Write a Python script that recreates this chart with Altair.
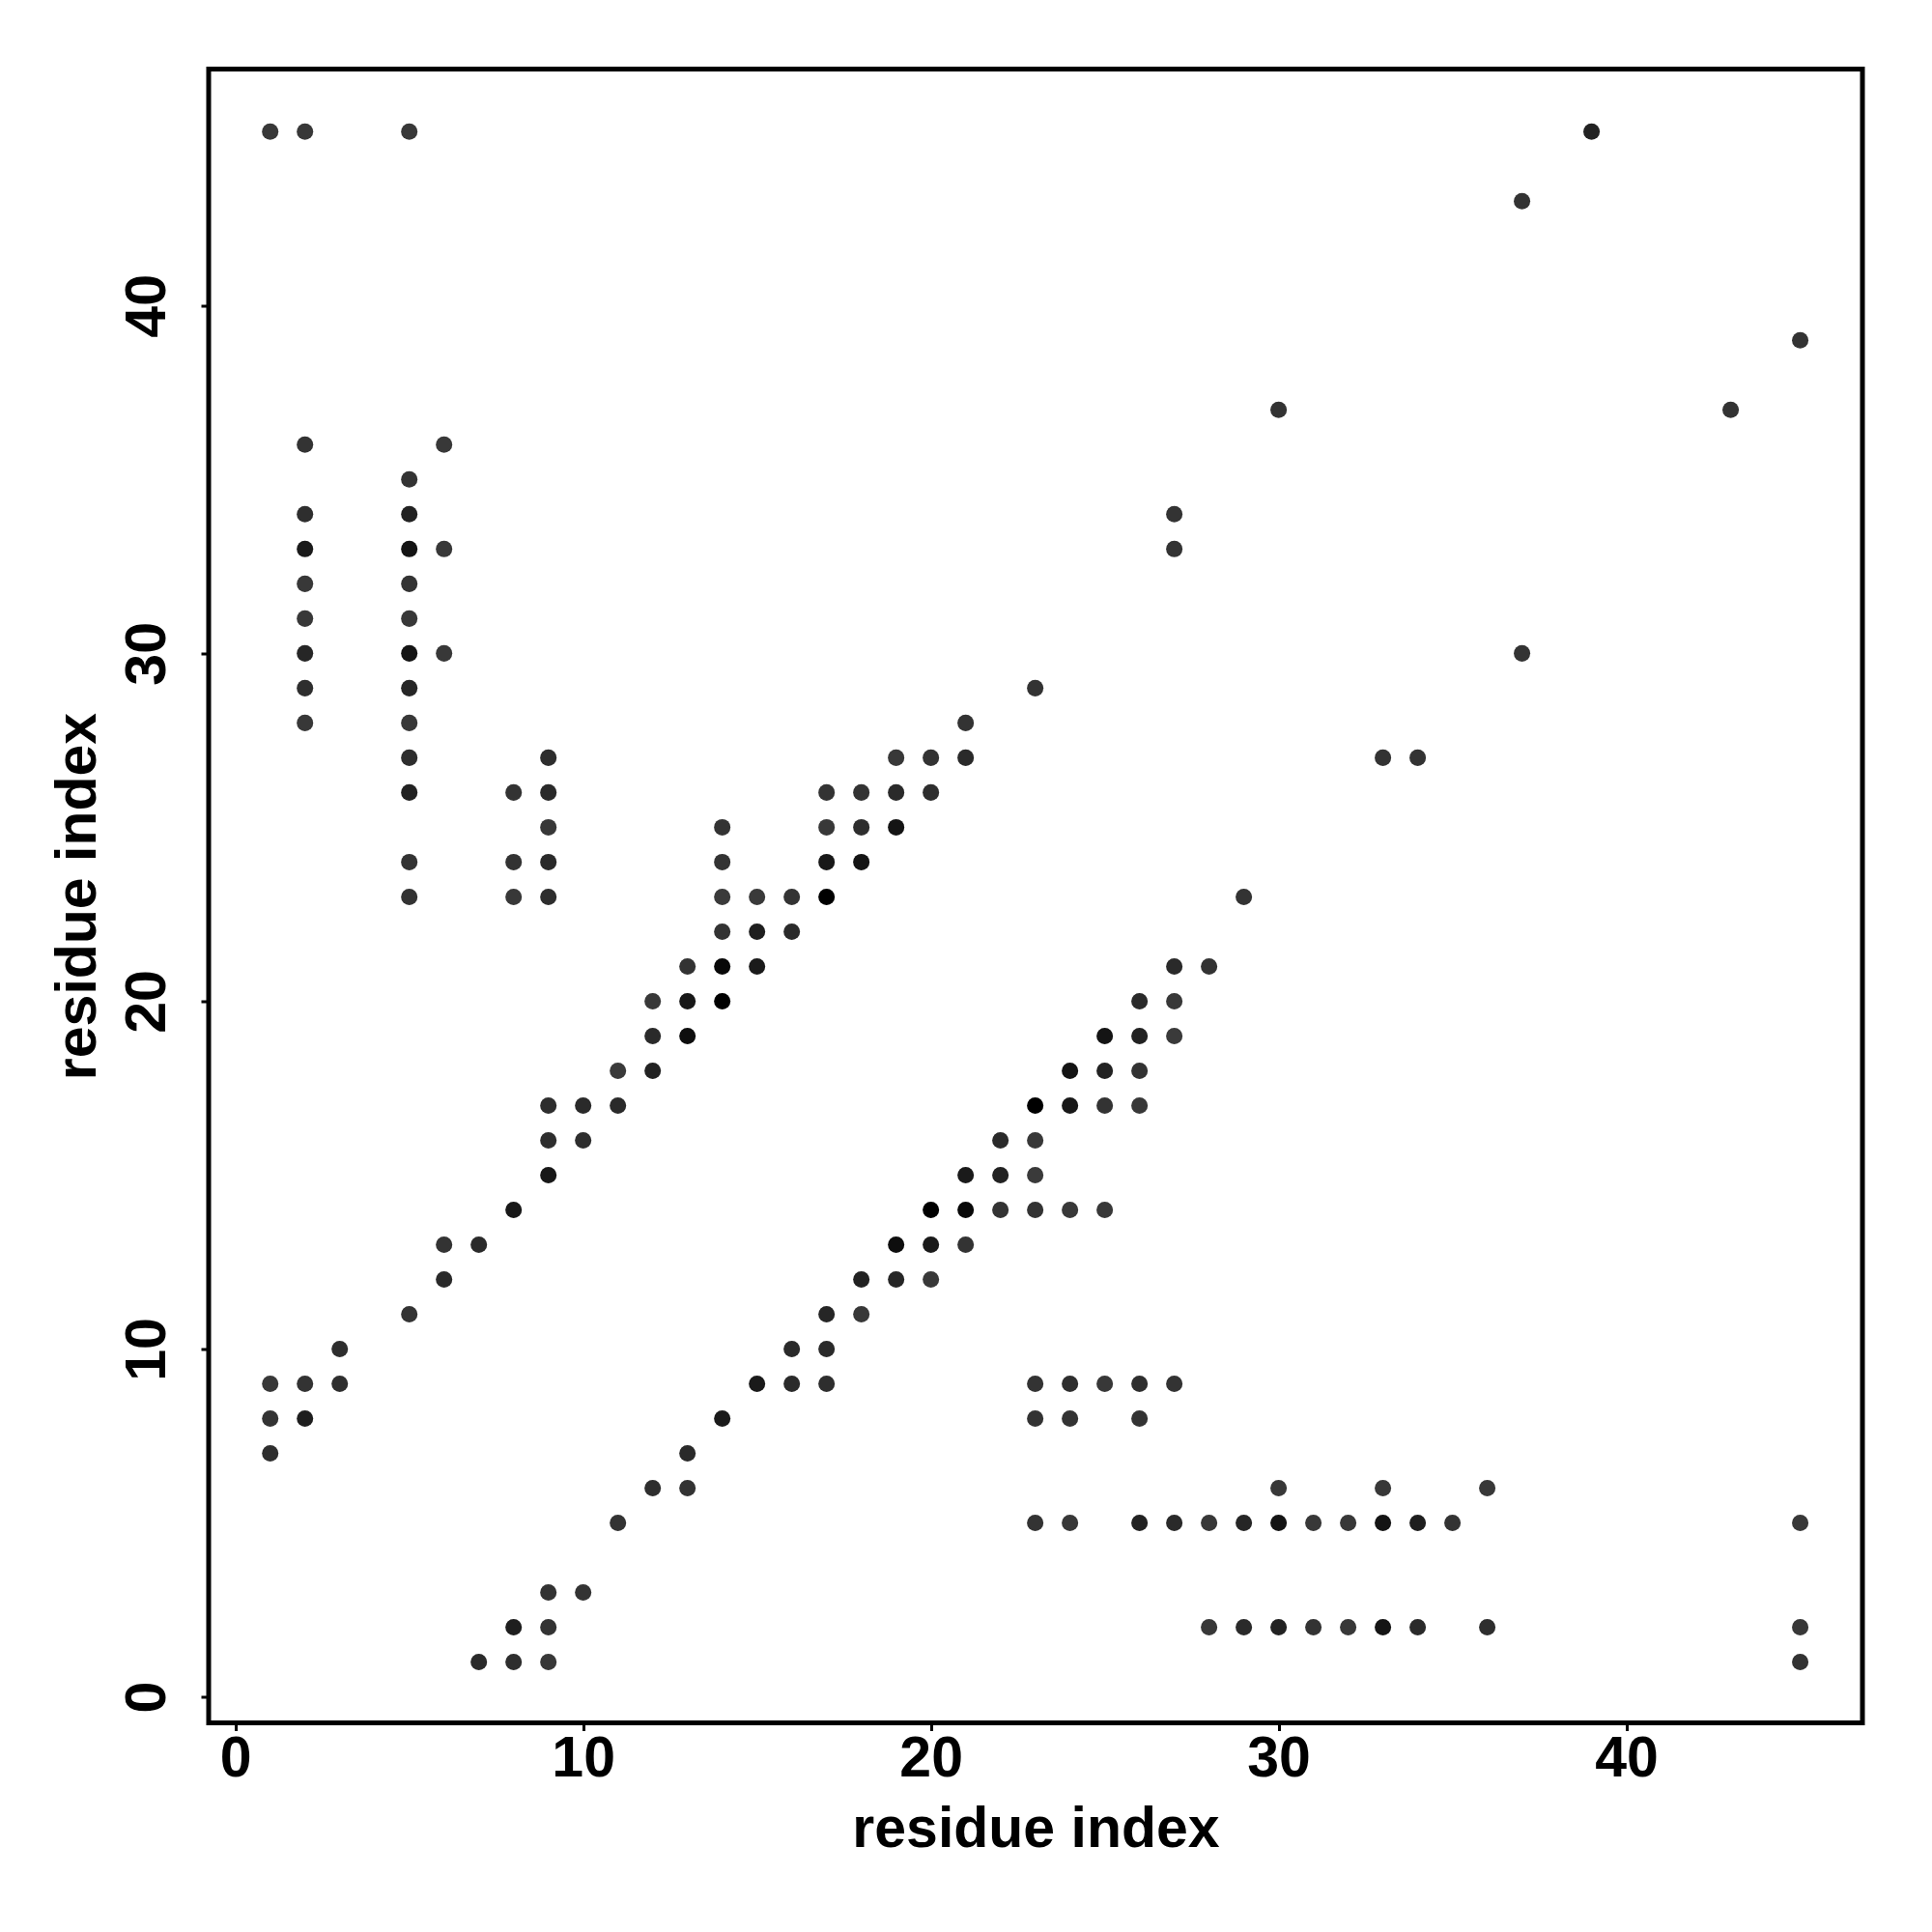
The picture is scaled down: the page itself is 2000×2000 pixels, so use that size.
import altair as alt
import pandas as pd

# residue contact pairs (x residue, y residue) and grey level of each dot (0=black)
res_x = [
    1, 1, 1, 1,
    2, 2, 2, 2, 2, 2, 2, 2, 2, 2, 2,
    3, 3,
    5, 5, 5, 5, 5, 5, 5, 5, 5, 5, 5, 5, 5, 5,
    6, 6, 6, 6, 6,
    7, 7,
    8, 8, 8, 8, 8, 8,
    9, 9, 9, 9, 9, 9, 9, 9, 9, 9, 9,
    10, 10, 10,
    11, 11, 11,
    12, 12, 12, 12,
    13, 13, 13, 13, 13,
    14, 14, 14, 14, 14, 14, 14,
    15, 15, 15, 15,
    16, 16, 16, 16,
    17, 17, 17, 17, 17, 17, 17,
    18, 18, 18, 18, 18,
    19, 19, 19, 19, 19,
    20, 20, 20, 20, 20,
    21, 21, 21, 21, 21,
    22, 22, 22,
    23, 23, 23, 23, 23, 23, 23, 23,
    24, 24, 24, 24, 24, 24,
    25, 25, 25, 25, 25,
    26, 26, 26, 26, 26, 26, 26,
    27, 27, 27, 27, 27, 27, 27,
    28, 28, 28,
    29, 29, 29,
    30, 30, 30, 30,
    31, 31,
    32, 32,
    33, 33, 33, 33,
    34, 34, 34,
    35,
    36, 36,
    37, 37,
    39,
    43,
    45, 45, 45, 45,
]
res_y = [
    45, 9, 8, 7,
    45, 36, 34, 33, 32, 31, 30, 29, 28, 9, 8,
    10, 9,
    45, 35, 34, 33, 32, 31, 30, 29, 28, 27, 26, 24, 23, 11,
    36, 33, 30, 13, 12,
    13, 1,
    26, 24, 23, 14, 2, 1,
    27, 26, 25, 24, 23, 17, 16, 15, 3, 2, 1,
    17, 16, 3,
    18, 17, 5,
    20, 19, 18, 6,
    21, 20, 19, 7, 6,
    25, 24, 23, 22, 21, 20, 8,
    23, 22, 21, 9,
    23, 22, 10, 9,
    26, 25, 24, 23, 11, 10, 9,
    26, 25, 24, 12, 11,
    27, 26, 25, 13, 12,
    27, 26, 14, 13, 12,
    28, 27, 15, 14, 13,
    16, 15, 14,
    29, 17, 16, 15, 14, 9, 8, 5,
    18, 17, 14, 9, 8, 5,
    19, 18, 17, 14, 9,
    20, 19, 18, 17, 9, 8, 5,
    34, 33, 21, 20, 19, 9, 5,
    21, 5, 2,
    23, 5, 2,
    37, 6, 5, 2,
    5, 2,
    5, 2,
    27, 6, 5, 2,
    27, 5, 2,
    5,
    6, 2,
    43, 30,
    45,
    37,
    39, 5, 2, 1,
]
grey = [
    56, 56, 51, 46,
    56, 51, 46, 26, 56, 56, 38, 46, 56, 51, 30,
    46, 46,
    56, 51, 34, 20, 51, 56, 20, 38, 56, 46, 34, 51, 51, 51,
    56, 56, 56, 51, 42,
    42, 42,
    51, 51, 56, 24, 30, 46,
    46, 42, 56, 42, 46, 46, 46, 24, 51, 51, 56,
    42, 46, 51,
    58, 42, 51,
    56, 42, 34, 46,
    51, 24, 14, 42, 51,
    51, 51, 58, 51, 8, 0, 26,
    58, 30, 26, 26,
    51, 42, 42, 42,
    51, 56, 24, 0, 38, 42, 46,
    51, 46, 20, 34, 56,
    56, 42, 20, 14, 38,
    51, 46, 0, 26, 56,
    51, 42, 26, 8, 51,
    42, 34, 51,
    51, 0, 56, 58, 51, 51, 51, 51,
    20, 24, 56, 46, 51, 56,
    20, 34, 51, 56, 56,
    42, 34, 51, 56, 46, 51, 34,
    51, 51, 42, 56, 58, 51, 42,
    51, 56, 56,
    51, 38, 42,
    51, 56, 20, 34,
    56, 51,
    56, 56,
    51, 56, 20, 20,
    51, 30, 42,
    51,
    56, 46,
    51, 51,
    34,
    51,
    51, 56, 56, 51,
]

tick_values = [0, 10, 20, 30, 40]

df = pd.DataFrame({"x": res_x, "y": res_y, "g": grey})
df["col"] = ["#%02x%02x%02x" % (v, v, v) for v in df["g"]]

FONT = "Liberation Sans"
FS = 59

chart = (
    alt.Chart(df)
    .mark_circle(size=290, opacity=1)
    .encode(
        x=alt.X(
            "x:Q",
            scale=alt.Scale(domain=[-0.77, 46.79], nice=False, zero=False),
            axis=alt.Axis(
                title="residue index",
                values=tick_values,
                grid=False,
                domain=False,
                tickSize=8,
                tickWidth=3,
                tickColor="black",
                labelFont=FONT,
                labelFontSize=FS,
                labelFontWeight="bold",
                labelColor="black",
                labelBaseline="alphabetic",
                labelPadding=47,
                labelFlush=False,
                labelOverlap=False,
                titleFont=FONT,
                titleFontSize=FS,
                titleFontWeight="bold",
                titleColor="black",
                titleBaseline="alphabetic",
                titleY=128,
            ),
        ),
        y=alt.Y(
            "y:Q",
            scale=alt.Scale(domain=[-0.75, 46.8], nice=False, zero=False),
            axis=alt.Axis(
                title="residue index",
                values=tick_values,
                grid=False,
                domain=False,
                tickSize=8,
                tickWidth=3,
                tickColor="black",
                labelFont=FONT,
                labelFontSize=FS,
                labelFontWeight="bold",
                labelColor="black",
                labelAngle=270,
                labelAlign="center",
                labelBaseline="alphabetic",
                labelPadding=38,
                labelFlush=False,
                labelOverlap=False,
                titleFont=FONT,
                titleFontSize=FS,
                titleFontWeight="bold",
                titleColor="black",
                titleAngle=270,
                titleAlign="center",
                titleBaseline="alphabetic",
                titleX=-118,
                titleY=856,
            ),
        ),
        color=alt.Color("col:N", scale=None, legend=None),
    )
    .properties(
        width=1712,
        height=1712,
        padding={"left": 208, "top": 63.5, "right": 40, "bottom": 180},
        autosize=alt.AutoSizeParams(type="none"),
        background="white",
    )
    .configure_view(stroke="black", strokeWidth=5, fill="white")
)

chart.save("out.html", embed_options={"renderer": "svg", "actions": False})
